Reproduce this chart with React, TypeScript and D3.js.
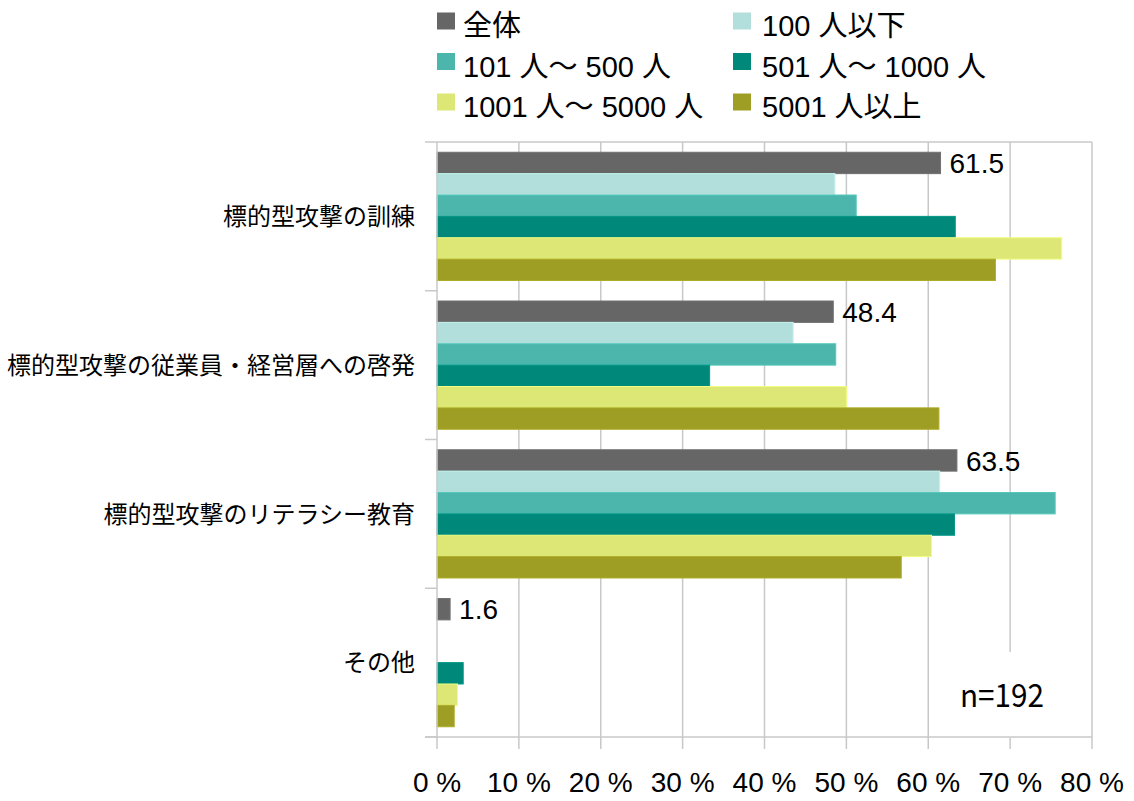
import * as d3 from "d3";
import React, { useEffect, useRef } from "react";

const categories = [
  "標的型攻撃の訓練",
  "標的型攻撃の従業員・経営層への啓発",
  "標的型攻撃のリテラシー教育",
  "その他",
];

const seriesNames = [
  "全体",
  "100 人以下",
  "101 人～ 500 人",
  "501 人～ 1000 人",
  "1001 人～ 5000 人",
  "5001 人以上",
];

const seriesColors = ["#666666", "#b2dfdb", "#4db6ac", "#00897b", "#dce775", "#9e9d24"];

const allValues = [61.5, 48.4, 63.5, 1.6];
const upTo100 = [48.6, 43.5, 61.4, 0];
const from101To500 = [51.2, 48.7, 75.5, 0];
const from501To1000 = [63.3, 33.3, 63.2, 3.2];
const from1001To5000 = [76.3, 50.0, 60.4, 2.5];
const over5001 = [68.2, 61.3, 56.7, 2.1];

const seriesValues = [allValues, upTo100, from101To500, from501To1000, from1001To5000, over5001];

const xTicks = [0, 10, 20, 30, 40, 50, 60, 70, 80];

const W = 1134;
const H = 801;

const App: React.FC = () => {
  const ref = useRef<SVGSVGElement>(null);

  useEffect(() => {
    if (!ref.current) return;
    const svg = d3.select(ref.current);
    svg.selectAll("*").remove();

    const left = 437;
    const right = 1092;
    const top = 142;
    const bottom = 737;
    const gridColor = "#c8c8c8";
    const font = "'Liberation Sans', 'Noto Sans CJK JP', sans-serif";

    const x = d3.scaleLinear().domain([0, 80]).range([left, right]);
    const y = d3.scaleBand<string>().domain(categories).range([top, bottom]).padding(0);
    const inner = d3
      .scaleBand<string>()
      .domain(seriesNames)
      .range([0, y.bandwidth()])
      .paddingInner(0)
      .paddingOuter(0.48);

    // gridlines
    svg
      .append("g")
      .selectAll("line")
      .data(xTicks.slice(1))
      .enter()
      .append("line")
      .attr("x1", (d) => x(d))
      .attr("x2", (d) => x(d))
      .attr("y1", top)
      .attr("y2", bottom + 12)
      .attr("stroke", gridColor)
      .attr("stroke-width", 1.5);

    // top border
    svg
      .append("line")
      .attr("x1", left)
      .attr("x2", right)
      .attr("y1", top)
      .attr("y2", top)
      .attr("stroke", gridColor)
      .attr("stroke-width", 1.5);

    // bars
    seriesNames.forEach((name, si) => {
      const color = seriesColors[si];
      const stroke = d3.color(color)!.brighter(0.25).formatHex();
      svg
        .append("g")
        .selectAll("rect")
        .data(seriesValues[si])
        .enter()
        .append("rect")
        .attr("x", x(0))
        .attr("y", (_, i) => (y(categories[i]) || 0) + (inner(name) || 0))
        .attr("width", (d) => x(d) - x(0))
        .attr("height", inner.bandwidth())
        .attr("fill", color)
        .attr("stroke", stroke)
        .attr("stroke-width", 1);
    });

    // value labels for 全体
    svg
      .append("g")
      .selectAll("text")
      .data(allValues)
      .enter()
      .append("text")
      .attr("x", (d) => x(d) + 9)
      .attr("y", (_, i) => (y(categories[i]) || 0) + (inner(seriesNames[0]) || 0) + inner.bandwidth() / 2)
      .attr("dy", "0.36em")
      .style("font-family", font)
      .style("font-size", "28px")
      .attr("fill", "#000")
      .text((d) => d.toFixed(1));

    // n= box
    svg
      .append("rect")
      .attr("x", 955)
      .attr("y", 652)
      .attr("width", 100)
      .attr("height", 86)
      .attr("fill", "#fff");
    svg
      .append("text")
      .attr("x", 1002)
      .attr("y", 707)
      .attr("text-anchor", "middle")
      .style("font-family", "'Noto Sans CJK JP', sans-serif")
      .style("font-size", "32px")
      .attr("textLength", 84)
      .attr("lengthAdjust", "spacingAndGlyphs")
      .text("n=192");

    // x axis
    svg
      .append("line")
      .attr("x1", left - 12)
      .attr("x2", right)
      .attr("y1", bottom)
      .attr("y2", bottom)
      .attr("stroke", gridColor)
      .attr("stroke-width", 1.5);
    svg
      .append("line")
      .attr("x1", left)
      .attr("x2", left)
      .attr("y1", top)
      .attr("y2", bottom + 12)
      .attr("stroke", gridColor)
      .attr("stroke-width", 1.5);
    svg
      .append("g")
      .selectAll("text")
      .data(xTicks)
      .enter()
      .append("text")
      .attr("x", (d) => x(d))
      .attr("y", 792)
      .attr("text-anchor", "middle")
      .style("font-family", font)
      .style("font-size", "28px")
      .text((d) => `${d} %`);

    // y axis ticks at band edges
    const edges = categories.map((c) => y(c) || 0).concat([bottom]);
    svg
      .append("g")
      .selectAll("line")
      .data(edges)
      .enter()
      .append("line")
      .attr("x1", left - 12)
      .attr("x2", left)
      .attr("y1", (d) => d)
      .attr("y2", (d) => d)
      .attr("stroke", gridColor)
      .attr("stroke-width", 1.5);

    // category labels
    svg
      .append("g")
      .selectAll("text")
      .data(categories)
      .enter()
      .append("text")
      .attr("x", 415)
      .attr("y", (d) => (y(d) || 0) + y.bandwidth() / 2)
      .attr("dy", "0.36em")
      .attr("text-anchor", "end")
      .style("font-family", "'Noto Sans CJK JP', sans-serif")
      .style("font-size", "24px")
      .text((d) => d);

    // legend
    const legend = svg.append("g");
    seriesNames.forEach((name, i) => {
      const col = i % 2;
      const row = Math.floor(i / 2);
      const lx = col === 0 ? 437 : 733;
      const baseline = 36 + row * 40.5;
      legend
        .append("rect")
        .attr("x", lx)
        .attr("y", baseline - 23.5)
        .attr("width", 18)
        .attr("height", 17)
        .attr("fill", seriesColors[i]);
      legend
        .append("text")
        .attr("x", lx + (col === 0 ? 26 : 29))
        .attr("y", baseline)
        .style("font-family", font)
        .style("font-size", "29px")
        .text(name);
    });
  }, []);

  return (
    <svg
      ref={ref}
      width={W}
      height={H}
      style={{ position: "absolute", left: 0, top: 0, background: "#fff" }}
    />
  );
};

export default App;
